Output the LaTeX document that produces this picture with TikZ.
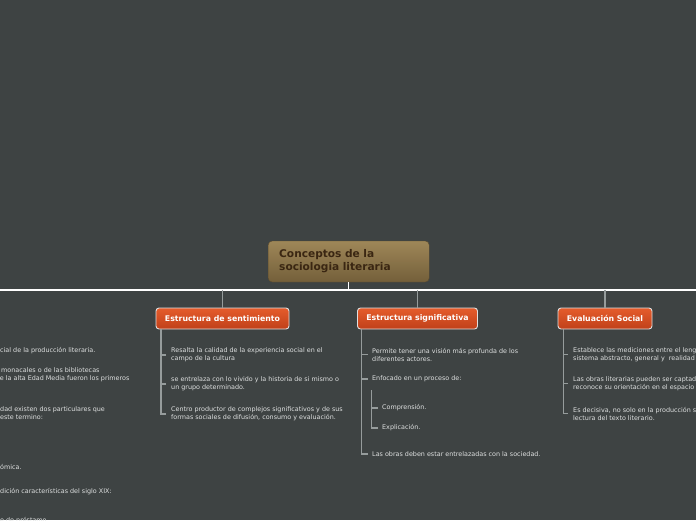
\documentclass[tikz,border=0pt]{standalone}
\usepackage{fontspec}
\setmainfont{DejaVu Sans}
\usepackage{xcolor}
\usetikzlibrary{positioning,calc}
\definecolor{board}{RGB}{62,67,67}
\definecolor{titletop}{RGB}{158,135,88}
\definecolor{titlebot}{RGB}{116,95,58}
\definecolor{titletext}{RGB}{58,38,18}
\definecolor{orgtop}{RGB}{229,92,44}
\definecolor{orgbot}{RGB}{192,64,25}
\definecolor{twig}{RGB}{150,156,156}
\definecolor{leaftext}{RGB}{222,224,224}
\tikzset{
  root/.style={rounded corners=4pt, top color=titletop, bottom color=titlebot,
    draw=titlebot!80!black, thin, align=left, text width=139pt, inner xsep=11pt,
    minimum width=161pt, minimum height=41pt, text=titletext,
    font=\fontsize{10.6}{13}\selectfont\bfseries},
  topic/.style={rounded corners=3pt, top color=orgtop, bottom color=orgbot,
    draw=white!88!black, line width=0.9pt, minimum height=21pt, inner xsep=3pt,
    text=white, font=\fontsize{7.8}{9}\selectfont\bfseries},
  leaf/.style={anchor=west, inner sep=0pt, align=left, text=leaftext,
    font=\fontsize{6.4}{8}\selectfont},
  trunk/.style={draw=white, line width=1.3pt},
  branch/.style={draw=twig, line width=1.2pt},
  sub/.style={draw=twig, line width=1.2pt}
}

\begin{document}
\begin{tikzpicture}[x=1pt,y=-1pt]
  \path[use as bounding box, fill=board] (0,0) rectangle (696,520);
  \clip (0,0) rectangle (696,520);

  % idea central
  \node[root] (root) at (348.7,261.5) {Conceptos de la\\sociologia literaria};
  \coordinate (hub) at (348.7,290);
  \coordinate (lend) at (0,290);
  \coordinate (rend) at (696,290);

  % temas
  \node[topic, minimum width=133pt] (sent) at (222.5,318.5) {Estructura de sentimiento};
  \node[topic, minimum width=120pt] (sign) at (417.5,318.5) {Estructura significativa};
  \node[topic, minimum width=94pt] (eval) at (605,318.5) {Evaluación Social};

  \draw[trunk] (root) -- (hub);
  \draw[trunk] (lend) -- (rend);
  \draw[branch] (hub -| sent) -- (sent);
  \draw[branch] (hub -| sign) -- (sign);
  \draw[branch] (hub -| eval) -- (eval);

  % rama izquierda (cortada)
  \node[leaf] (l1) at (0,351) {cial de la producción literaria.};
  \node[leaf] (l2) at (1,375) {monacales o de las bibliotecas\\\hspace{-1.3pt}e la alta Edad Media fueron los primeros};
  \node[leaf] (l3) at (0,413) {dad existen dos particulares que\\este termino:};
  \node[leaf] (l4) at (0,467) {ómica.};
  \node[leaf] (l5) at (0,492) {dición características del siglo XIX:};
  \node[leaf] (l6) at (0,521) {e de préstamo};

  % estructura de sentimiento
  \node[leaf] (s1) at (171,355) {Resalta la calidad de la experiencia social en el\\campo de la cultura};
  \node[leaf] (s2) at (171,384) {se entrelaza con lo vivido y la historia de si mismo o\\un grupo determinado.};
  \node[leaf] (s3) at (171,414) {Centro productor de complejos significativos y de sus\\formas sociales de difusión, consumo y evaluación.};
  \foreach \k in {s1,s2,s3}
    \draw[branch] ([xshift=-61.5pt]sent.south) |- ([xshift=-5pt]\k.west);

  % estructura significativa
  \node[leaf] (g1) at (372,354.5) {Permite tener una visión más profunda de los\\diferentes actores.};
  \node[leaf] (g2) at (372,379) {Enfocado en un proceso de:};
  \node[leaf] (g3) at (382,408) {Comprensión.};
  \node[leaf] (g4) at (382,428) {Explicación.};
  \node[leaf] (g5) at (372,454) {Las obras deben estar entrelazadas con la sociedad.};
  \foreach \k in {g1,g2,g5}
    \draw[branch] ([xshift=-55.8pt]sign.south) |- ([xshift=-4.5pt]\k.west);
  \foreach \k in {g3,g4}
    \draw[sub] ([xshift=-0.3pt,yshift=-8pt]g2.south west) |- ([xshift=-4.5pt]\k.west);

  % evaluacion social
  \node[leaf] (e1) at (573,354.5) {Establece las mediciones entre el lenguaje\\sistema abstracto, general y \ realidad};
  \node[leaf] (e2) at (573,383.5) {Las obras literarias pueden ser captadas\\reconoce su orientación en el espacio};
  \node[leaf] (e3) at (573,413.5) {Es decisiva, no solo en la producción sino\\lectura del texto literario.};
  \foreach \k in {e1,e2,e3}
    \draw[branch] ([xshift=-41.7pt]eval.south) |- ([xshift=-5pt]\k.west);
\end{tikzpicture}
\end{document}
